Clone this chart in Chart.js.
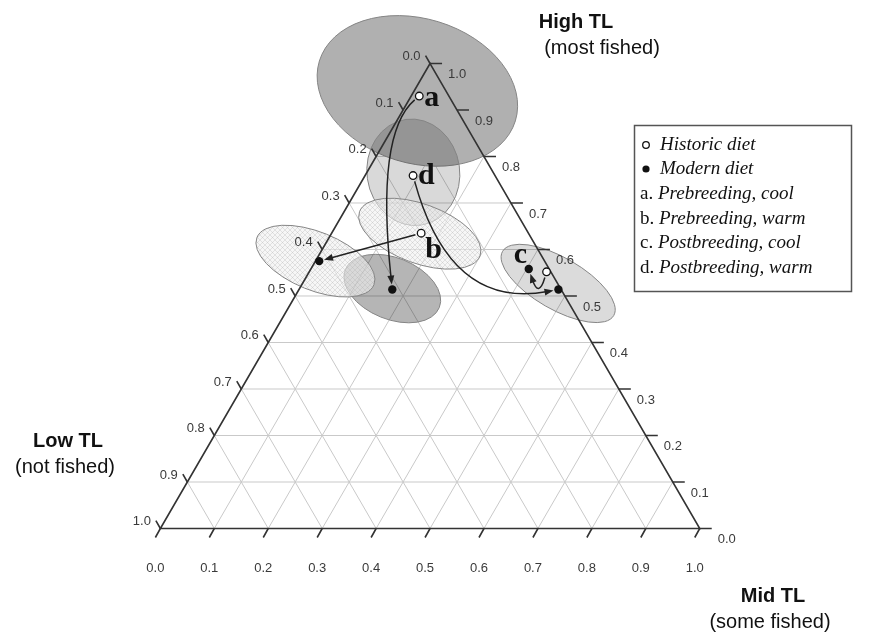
<!DOCTYPE html>
<html>
<head>
<meta charset="utf-8">
<script src="https://cdn.jsdelivr.net/npm/chart.js@4/dist/chart.umd.min.js"></script>
<style>
body { margin: 0; background: #fff; }
#wrap { width: 873px; height: 642px; }
</style>
</head>
<body>
<div id="wrap"><canvas id="c" width="873" height="642"></canvas></div>
<script>
// compositions are [high TL, mid TL]; low TL = 1 - high - mid
var groupLetters = ['a', 'b', 'c', 'd'];
var groupNames = ['Prebreeding, cool', 'Prebreeding, warm', 'Postbreeding, cool', 'Postbreeding, warm'];
var historicDiet = [[0.930, 0.015], [0.635, 0.166], [0.552, 0.440], [0.759, 0.089]];
var modernDiet = [[0.514, 0.173], [0.575, 0.007], [0.558, 0.404], [0.514, 0.481]];
// bend point of each historic -> modern arrow (null = straight)
var arrowBend = [[0.850, -0.026], null, [0.495, 0.454], [0.470, 0.302]];

// confidence regions
var regionNames = ['a-historic', 'd-historic', 'b-historic', 'a-modern', 'b-modern', 'cd-modern'];
var regionCentre = [[0.941, 0.006], [0.766, 0.086], [0.634, 0.164], [0.516, 0.172], [0.575, 0.000], [0.527, 0.474]];
var regionRadii = [[0.190, 0.134], [0.086, 0.099], [0.119, 0.055], [0.094, 0.057], [0.117, 0.054], [0.119, 0.048]];
var regionAngle = [17, -8, 20, 22, 22, 30];

var tickValues = [0, 0.1, 0.2, 0.3, 0.4, 0.5, 0.6, 0.7, 0.8, 0.9, 1.0];
var tickLabels = ['0.0', '0.1', '0.2', '0.3', '0.4', '0.5', '0.6', '0.7', '0.8', '0.9', '1.0'];

var R3 = Math.sqrt(3) / 2;
function tern(h, m) { return { x: m + h / 2, y: h * R3 }; }

var hatch = (function () {
    var p = document.createElement('canvas');
    p.width = 5; p.height = 5;
    var g = p.getContext('2d');
    g.fillStyle = 'rgba(240,240,240,0.6)';
    g.fillRect(0, 0, 5, 5);
    g.strokeStyle = 'rgba(175,175,175,0.45)';
    g.lineWidth = 0.7;
    g.beginPath();
    g.moveTo(0, 0); g.lineTo(5, 5);
    g.moveTo(5, 0); g.lineTo(0, 5);
    g.stroke();
    return p;
})();

var regionFill = ['#b0b0b0', 'rgba(0,0,0,0.15)', 'hatch', 'rgba(0,0,0,0.29)', 'hatch', 'rgba(0,0,0,0.14)'];

var ternaryPlugin = {
    id: 'ternary',
    beforeDatasetsDraw: function (chart) {
        var ctx = chart.ctx, xs = chart.scales.x, ys = chart.scales.y;
        var P = function (h, m) { var t = tern(h, m); return [xs.getPixelForValue(t.x), ys.getPixelForValue(t.y)]; };
        var unit = xs.getPixelForValue(1) - xs.getPixelForValue(0);
        ctx.save();

        // grid
        ctx.strokeStyle = '#c9c9c9';
        ctx.lineWidth = 1;
        ctx.beginPath();
        for (var i = 1; i < 10; i++) {
            var v = tickValues[i], a, b;
            a = P(v, 0); b = P(v, 1 - v); ctx.moveTo(a[0], a[1]); ctx.lineTo(b[0], b[1]);
            a = P(0, v); b = P(1 - v, v); ctx.moveTo(a[0], a[1]); ctx.lineTo(b[0], b[1]);
            a = P(0, 1 - v); b = P(1 - v, 0); ctx.moveTo(a[0], a[1]); ctx.lineTo(b[0], b[1]);
        }
        ctx.stroke();

        // regions
        for (var r = 0; r < regionNames.length; r++) {
            var c = P(regionCentre[r][0], regionCentre[r][1]);
            ctx.beginPath();
            ctx.ellipse(c[0], c[1], regionRadii[r][0] * unit, regionRadii[r][1] * unit, regionAngle[r] * Math.PI / 180, 0, Math.PI * 2);
            ctx.fillStyle = regionFill[r] == 'hatch' ? ctx.createPattern(hatch, 'repeat') : regionFill[r];
            ctx.fill();
            ctx.strokeStyle = '#858585';
            ctx.lineWidth = 1;
            ctx.stroke();
        }

        // triangle
        var T = P(1, 0), L = P(0, 0), Rt = P(0, 1);
        ctx.strokeStyle = '#333';
        ctx.lineWidth = 1.6;
        ctx.beginPath();
        ctx.moveTo(T[0], T[1]); ctx.lineTo(L[0], L[1]); ctx.lineTo(Rt[0], Rt[1]); ctx.closePath();
        ctx.stroke();

        // ticks + labels
        ctx.font = '13px "Liberation Sans", Arial, sans-serif';
        ctx.fillStyle = '#3a3a3a';
        ctx.textBaseline = 'middle';
        ctx.beginPath();
        for (var k = 0; k < tickValues.length; k++) {
            var t = tickValues[k], p, e;
            // high TL (right edge)
            p = P(t, 1 - t); e = [p[0] + 12, p[1]];
            ctx.moveTo(p[0], p[1]); ctx.lineTo(e[0], e[1]);
            ctx.textAlign = 'left'; ctx.fillText(tickLabels[k], e[0] + 6, e[1] + 11);
            // low TL (left edge)
            p = P(1 - t, 0); e = [p[0] - 4.5, p[1] - 7.8];
            ctx.moveTo(p[0], p[1]); ctx.lineTo(e[0], e[1]);
            ctx.textAlign = 'right'; ctx.fillText(tickLabels[k], e[0] - 5, e[1] + 1);
            // mid TL (bottom edge)
            p = P(0, t); e = [p[0] - 5, p[1] + 9];
            ctx.moveTo(p[0], p[1]); ctx.lineTo(e[0], e[1]);
            ctx.textAlign = 'center'; ctx.fillText(tickLabels[k], p[0] - 5, p[1] + 40);
        }
        ctx.stroke();

        // arrows historic -> modern
        ctx.strokeStyle = '#222';
        ctx.fillStyle = '#222';
        ctx.lineWidth = 1.5;
        for (var g = 0; g < groupLetters.length; g++) {
            var s = P(historicDiet[g][0], historicDiet[g][1]);
            var d = P(modernDiet[g][0], modernDiet[g][1]);
            var q = arrowBend[g] ? P(arrowBend[g][0], arrowBend[g][1]) : [(s[0] + d[0]) / 2, (s[1] + d[1]) / 2];
            var u0 = [q[0] - s[0], q[1] - s[1]], l0 = Math.hypot(u0[0], u0[1]);
            var u1 = [d[0] - q[0], d[1] - q[1]], l1 = Math.hypot(u1[0], u1[1]);
            u0 = [u0[0] / l0, u0[1] / l0]; u1 = [u1[0] / l1, u1[1] / l1];
            var s2 = [s[0] + u0[0] * 6, s[1] + u0[1] * 6];
            var d2 = [d[0] - u1[0] * 5, d[1] - u1[1] * 5];
            var d3 = [d2[0] - u1[0] * 6, d2[1] - u1[1] * 6];
            ctx.beginPath();
            ctx.moveTo(s2[0], s2[1]);
            ctx.quadraticCurveTo(q[0], q[1], d3[0], d3[1]);
            ctx.stroke();
            var nx = -u1[1], ny = u1[0];
            ctx.beginPath();
            ctx.moveTo(d2[0], d2[1]);
            ctx.lineTo(d2[0] - u1[0] * 9 + nx * 3.5, d2[1] - u1[1] * 9 + ny * 3.5);
            ctx.lineTo(d2[0] - u1[0] * 9 - nx * 3.5, d2[1] - u1[1] * 9 - ny * 3.5);
            ctx.closePath();
            ctx.fill();
        }
        ctx.restore();
    },
    afterDraw: function (chart) {
        var ctx = chart.ctx, xs = chart.scales.x, ys = chart.scales.y;
        var P = function (h, m) { var t = tern(h, m); return [xs.getPixelForValue(t.x), ys.getPixelForValue(t.y)]; };
        ctx.save();
        ctx.fillStyle = '#111';
        ctx.textBaseline = 'middle';

        // group letters next to points
        ctx.font = 'bold 30px "Liberation Serif", "Times New Roman", serif';
        ctx.textAlign = 'left';
        var la = P(historicDiet[0][0], historicDiet[0][1]); ctx.fillText('a', la[0] + 5, la[1] + 2);
        var lb = P(historicDiet[1][0], historicDiet[1][1]); ctx.fillText('b', lb[0] + 4, lb[1] + 17);
        var lc = P(modernDiet[2][0], modernDiet[2][1]); ctx.fillText('c', lc[0] - 15, lc[1] - 14);
        var ld = P(historicDiet[3][0], historicDiet[3][1]); ctx.fillText('d', ld[0] + 5, ld[1] + 1);

        // axis titles
        ctx.textAlign = 'center';
        ctx.font = 'bold 20px "Liberation Sans", Arial, sans-serif';
        ctx.fillText('High TL', 576, 22);
        ctx.fillText('Low TL', 68, 441);
        ctx.fillText('Mid TL', 773, 596);
        ctx.font = '20px "Liberation Sans", Arial, sans-serif';
        ctx.fillText('(most fished)', 602, 48);
        ctx.fillText('(not fished)', 65, 467);
        ctx.fillText('(some fished)', 770, 622);

        // legend
        ctx.strokeStyle = '#555';
        ctx.lineWidth = 1.5;
        ctx.strokeRect(634.5, 125.5, 217, 166);
        ctx.lineWidth = 1.3;
        ctx.beginPath(); ctx.arc(646, 145, 3.3, 0, Math.PI * 2); ctx.fillStyle = '#fff'; ctx.fill(); ctx.strokeStyle = '#111'; ctx.stroke();
        ctx.beginPath(); ctx.arc(646, 169, 3.6, 0, Math.PI * 2); ctx.fillStyle = '#111'; ctx.fill();
        ctx.textAlign = 'left';
        ctx.font = 'italic 19px "Liberation Serif", "Times New Roman", serif';
        ctx.fillText('Historic diet', 660, 145);
        ctx.fillText('Modern diet', 660, 169);
        for (var g = 0; g < groupLetters.length; g++) {
            var y = 194 + g * 24.7;
            ctx.font = '19px "Liberation Serif", "Times New Roman", serif';
            var pre = groupLetters[g] + '. ';
            ctx.fillText(pre, 640, y);
            var w = ctx.measureText(pre).width;
            ctx.font = 'italic 19px "Liberation Serif", "Times New Roman", serif';
            ctx.fillText(groupNames[g], 640 + w, y);
        }
        ctx.restore();
    }
};

var historicPts = historicDiet.map(function (d) { return tern(d[0], d[1]); });
var modernPts = modernDiet.map(function (d) { return tern(d[0], d[1]); });

new Chart(document.getElementById('c'), {
    type: 'scatter',
    data: {
        datasets: [{
            label: 'Historic diet',
            data: historicPts,
            pointRadius: 3.8,
            pointBackgroundColor: '#fff',
            pointBorderColor: '#111',
            pointBorderWidth: 1.3
        }, {
            label: 'Modern diet',
            data: modernPts,
            pointRadius: 4.2,
            pointBackgroundColor: '#111',
            pointBorderColor: '#111',
            pointBorderWidth: 0
        }]
    },
    options: {
        responsive: false,
        animation: false,
        layout: { padding: 0 },
        scales: {
            x: { type: 'linear', min: -0.2875, max: 1.3114, display: false },
            y: { type: 'linear', min: -0.2015, max: 0.9744, display: false }
        },
        plugins: { legend: { display: false }, tooltip: { enabled: false } }
    },
    plugins: [ternaryPlugin]
});
</script>
</body>
</html>
